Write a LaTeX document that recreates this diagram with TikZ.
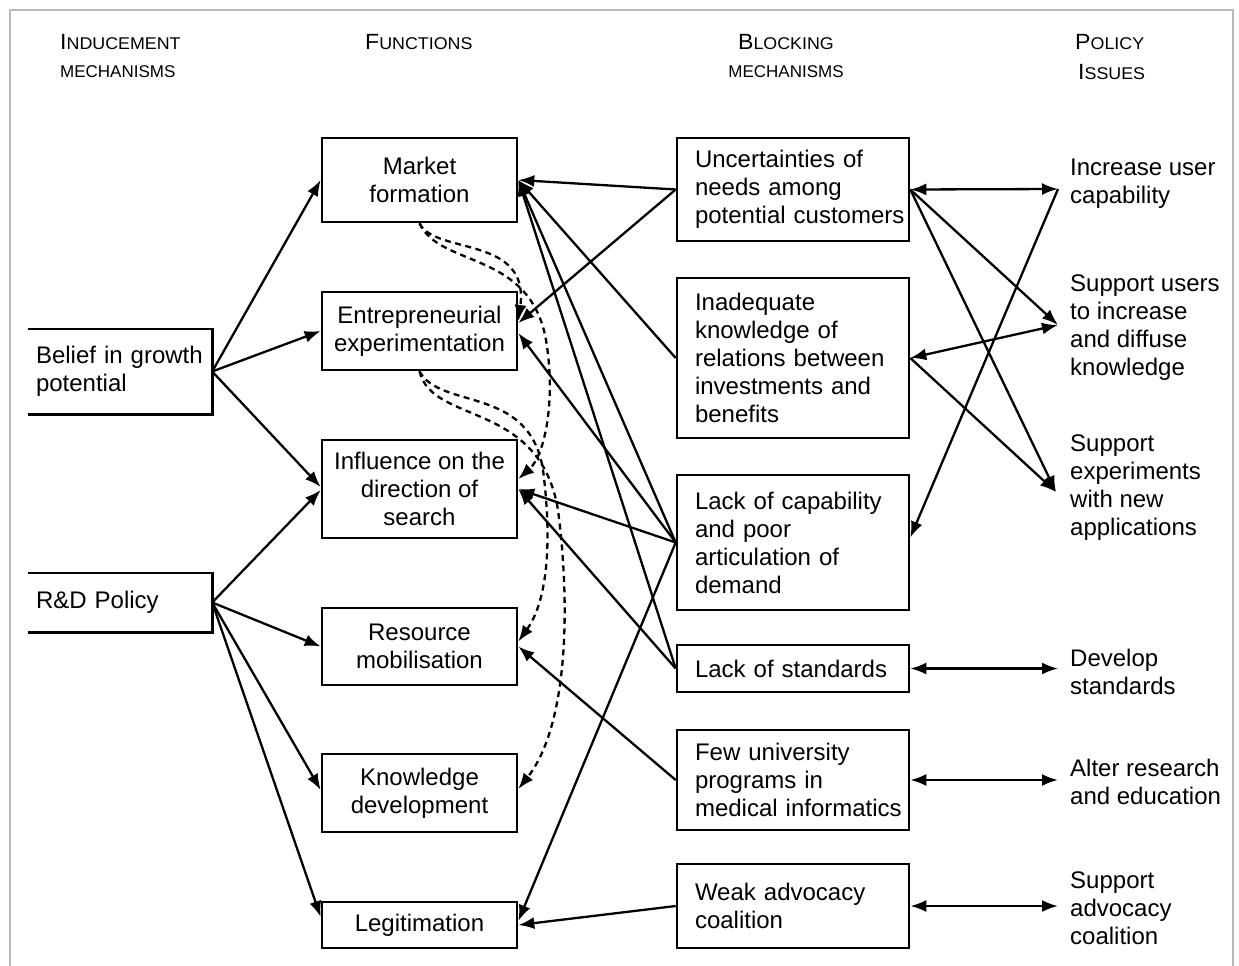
\documentclass[tikz,border=0pt]{standalone}
\usepackage{fontspec}
\setmainfont{Liberation Sans}
\usetikzlibrary{arrows.meta,calc}
\newcommand{\myhsc}[2]{{\fontsize{22}{22}\selectfont #1}{\fontsize{17}{17}\selectfont #2}}
\newcommand{\mysc}[1]{{\fontsize{17}{17}\selectfont #1}}
\begin{document}
\begin{tikzpicture}[x=1pt,y=-1pt,
  every node/.style={font=\fontsize{24}{28}\selectfont},
  fbox/.style={draw, line width=2.6pt, minimum width=195pt, inner xsep=2pt, inner ysep=0pt, align=center},
  bbox/.style={draw, line width=2.6pt, text width=196pt, inner xsep=18pt, inner ysep=0pt, align=left},
  ibox/.style={text width=168pt, inner xsep=8pt, inner ysep=0pt, align=left},
  ptext/.style={anchor=west, inner sep=0pt, align=left},
  hdr/.style={inner sep=0pt},
  conn/.style={line width=2.3pt, -{Latex[length=16pt,width=12pt]}},
  biconn/.style={line width=2.3pt, {Latex[length=16pt,width=12pt]}-{Latex[length=16pt,width=12pt]}},
  dconn/.style={conn, dash pattern=on 6pt off 4.5pt}
]
\useasboundingbox (0,0) rectangle (1239,966);
% frame
\draw[gray!55, line width=1.5pt] (10,975) -- (10,10) -- (1233,10) -- (1233,975);

% headers
\node[hdr, anchor=west] (h1a) at (60,42) {\scalebox{1.05}[1]{\myhsc{I}{NDUCEMENT}}};
\node[hdr, anchor=west] (h1b) at (60,72) {\scalebox{1.0}[1]{\mysc{MECHANISMS}}};
\node[hdr, anchor=west] (h2a) at (365,42) {\scalebox{1.05}[1]{\myhsc{F}{UNCTIONS}}};
\node[hdr] (h3a) at (786,42) {\scalebox{1.05}[1]{\myhsc{B}{LOCKING}}};
\node[hdr] (h3b) at (786,72) {\scalebox{1.0}[1]{\mysc{MECHANISMS}}};
\node[hdr, anchor=west] (h4a) at (1075,42) {\scalebox{1.05}[1]{\myhsc{P}{OLICY}}};
\node[hdr, anchor=west] (h4b) at (1078,72) {\scalebox{1.05}[1]{\myhsc{I}{SSUES}}};

% inducement
\node[ibox, minimum height=85pt] (belief) at (120,371.5) {\mbox{Belief in growth}\\potential};
\node[ibox, minimum height=59pt] (rd) at (120,602.5) {R\&D Policy};
\draw[line width=2.6pt] (belief.north west) -- (belief.north east) -- (belief.south east) -- (belief.south west);
\draw[line width=2.6pt] (rd.north west) -- (rd.north east) -- (rd.south east) -- (rd.south west);

% functions
\node[fbox, minimum height=84pt] (mf) at (419.5,180) {Market\\formation};
\node[fbox, minimum height=78pt] (ee) at (419.5,331) {Entrepreneurial\\experimentation};
\node[fbox, minimum height=98pt] (ids) at (419.5,489) {Influence on the\\direction of\\search};
\node[fbox, minimum height=77pt] (rm) at (419.5,646.5) {Resource\\mobilisation};
\node[fbox, minimum height=78pt] (kd) at (419.5,793) {Knowledge\\development};
\node[fbox, minimum height=46pt] (leg) at (419.5,925) {Legitimation};

% blocking
\node[bbox, minimum height=103pt] (unc) at (793,189.5) {Uncertainties of\\needs among\\\mbox{potential customers}};
\node[bbox, minimum height=160pt] (inad) at (793,358) {Inadequate\\knowledge of\\\mbox{relations between}\\investments and\\benefits};
\node[bbox, minimum height=135pt] (lcap) at (793,542.5) {Lack of capability\\and poor\\articulation of\\demand};
\node[bbox, minimum height=47pt] (lstd) at (793,668.5) {\mbox{Lack of standards}};
\node[bbox, minimum height=100pt] (few) at (793,780) {Few university\\programs in\\\mbox{medical informatics}};
\node[bbox, minimum height=84pt] (weak) at (793,906) {Weak advocacy\\coalition};

% policy issues
\node[ptext] (iuc) at (1070,184) {Increase user\\capability};
\node[ptext] (sud) at (1070,328) {Support users\\to increase\\and diffuse\\knowledge};
\node[ptext] (sex) at (1070,488) {Support\\experiments\\with new\\applications};
\node[ptext] (dst) at (1070,672) {Develop\\standards};
\node[ptext] (are) at (1070,782) {Alter research\\and education};
\node[ptext] (sac) at (1070,908) {Support\\advocacy\\coalition};

% inducement -> functions
\draw[conn] (belief.east) -- (mf.west);
\draw[conn] (belief.east) -- (ee.west);
\draw[conn] (belief.east) -- ([yshift=2pt]ids.west);
\draw[conn] (rd.east) -- ([yshift=-1pt]ids.west);
\draw[conn] (rd.east) -- (rm.west);
\draw[conn] (rd.east) -- ([yshift=3pt]kd.west);
\draw[conn] (rd.east) -- ([yshift=8pt]leg.west);

% blocking -> functions
\draw[conn] (unc.west) -- (mf.east);
\draw[conn] (unc.west) -- ([yshift=8pt]ee.east);
\draw[conn] (inad.west) -- (mf.east);
\draw[conn] (lcap.west) -- (mf.east);
\draw[conn] (lstd.west) -- (mf.east);
\draw[conn] (lcap.west) -- ([yshift=-2pt]ee.east);
\draw[conn] (lcap.west) -- (ids.east);
\draw[conn] (lstd.west) -- (ids.east);
\draw[conn] (lcap.west) -- ([yshift=4pt]leg.east);
\draw[conn] (weak.west) -- (leg.east);
\draw[conn] (few.west) -- (rm.east);

% dashed interactions between functions
\draw[dconn] (mf.south) .. controls (435,255) and (530,235) .. ([yshift=10pt]ee.east);
\draw[dconn] (mf.south) .. controls (440,268) and (530,250) .. (546,340) .. controls (556,400) and (545,455) .. ([yshift=10pt]ids.east);
\draw[dconn] (ee.south) .. controls (440,410) and (530,385) .. (543,470) .. controls (552,540) and (548,600) .. ([yshift=5pt]rm.east);
\draw[dconn] (ee.south) .. controls (432,425) and (540,400) .. (558,510) .. controls (572,620) and (565,730) .. ([yshift=4pt]kd.east);

% blocking <-> policy issues
\draw[biconn] (unc.east) -- ([xshift=-12pt,yshift=-5pt]iuc.west);
\draw[conn] (unc.east) -- ([xshift=-12pt,yshift=3pt]sud.west);
\draw[conn] (unc.east) -- ([xshift=-14pt,yshift=-4pt]sex.west);
\draw[biconn] (inad.east) -- ([xshift=-12pt,yshift=3pt]sud.west);
\draw[conn] (inad.east) -- ([xshift=-14pt,yshift=-4pt]sex.west);
\draw[conn] ([xshift=-12pt,yshift=-5pt]iuc.west) -- ([yshift=5pt]lcap.east);
\draw[biconn] (lstd.east) -- ($(lstd.east -| dst.west)+(-12,0)$);
\draw[biconn] (few.east) -- ($(few.east -| are.west)+(-12,0)$);
\draw[biconn] (weak.east) -- ($(weak.east -| sac.west)+(-12,0)$);
\end{tikzpicture}
\end{document}
